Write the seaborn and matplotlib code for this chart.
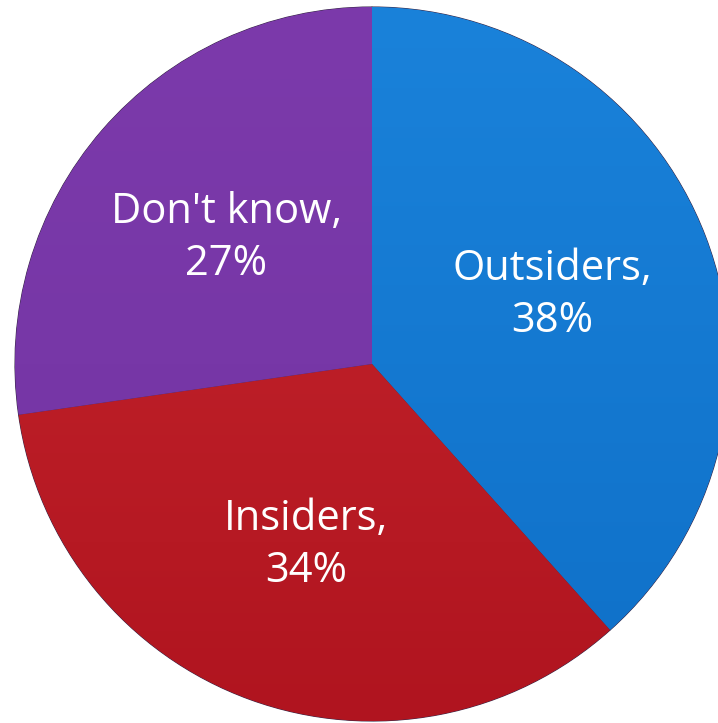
import matplotlib
matplotlib.use("Agg")
import matplotlib.pyplot as plt
import numpy as np
import seaborn as sns
from matplotlib.colors import LinearSegmentedColormap

categories = ["Outsiders", "Insiders", "Don't know"]
values = [38, 34, 27]
colors = ["#1479d4", "#bd1a27", "#7836a8"]
grad_top = ["#1a82da", "#c8282f", "#7c3aab"]
grad_bot = ["#0f70c8", "#b0141f", "#7234a3"]

sns.set_theme(style="white")
plt.rcParams['font.family'] = ['Open Sans', 'DejaVu Sans']

W, H = 718, 723
fig = plt.figure(figsize=(W / 100, H / 100), dpi=100)
ax = fig.add_axes([0, 0, 1, 1])

cx, cy, r = 372, 364, 357
labels = [f"{c},\n{v}%" for c, v in zip(categories, values)]
wedges, texts = ax.pie(values, labels=labels, colors=colors, startangle=90,
                       counterclock=False, radius=1.0, labeldistance=0.54,
                       wedgeprops=dict(edgecolor="#3a2a4a", linewidth=0.8),
                       textprops=dict(color="white", fontsize=30, ha="center",
                                      va="center", linespacing=1.3))
xlim = (-cx / r, (W - cx) / r)
ylim = (-(H - cy) / r, cy / r)
grad = np.linspace(1, 0, 256).reshape(-1, 1)
for w, top, bot in zip(wedges, grad_top, grad_bot):
    cmap = LinearSegmentedColormap.from_list("g", [bot, top])
    im = ax.imshow(grad, cmap=cmap, extent=(-1, 1, -1, 1), aspect="auto",
                   origin="upper", zorder=w.get_zorder() + 0.1)
    im.set_clip_path(w)
for t in texts:
    t.set_ha("center")
    t.set_va("center")
    t.set_zorder(5)

ax.set_aspect("auto")
ax.set_xlim(*xlim)
ax.set_ylim(*ylim)
ax.axis("off")
fig.savefig("out.png", dpi=100)
